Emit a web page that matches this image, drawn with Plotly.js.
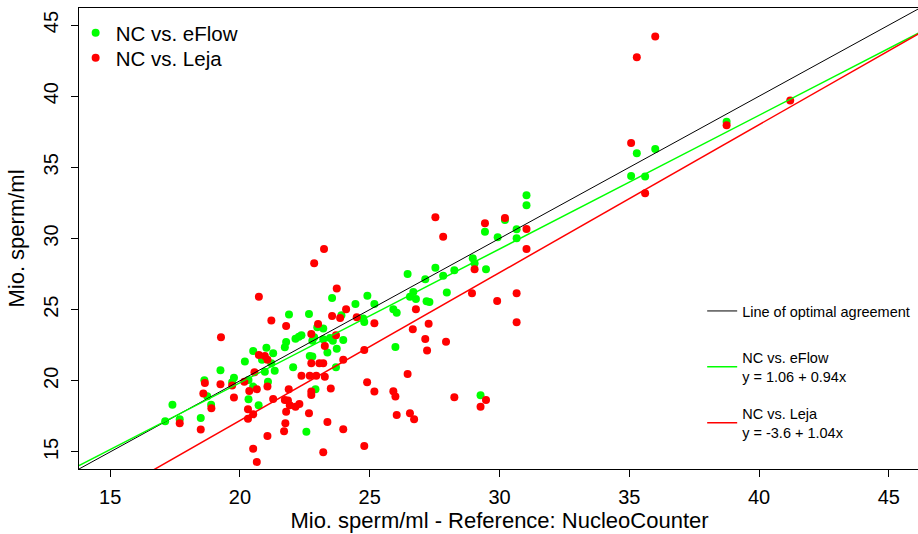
<!DOCTYPE html>
<html>
<head>
<meta charset="utf-8">
<script src="https://cdn.plot.ly/plotly-3.0.1.min.js"></script>
<style>
html,body{margin:0;padding:0;background:#fff;overflow:hidden;}
#chart{width:920px;height:534px;}
</style>
</head>
<body>
<div id="chart"></div>
<script>
// NucleoCounter reference vs. eFlow
const refEflow = [20.51,20.19,19.25,20.33,19.77,19.70,18.63,18.74,20.51,20.33,18.89,17.40,17.12,17.68,18.49,
  23.55,21.89,22.66,23.91,24.45,23.21,22.98,22.37,22.27,22.14,21.78,21.73,22.86,22.79,23.21,23.47,23.58,23.73,23.98,23.37,22.69,22.79,21.02,21.28,20.85,21.21,20.96,21.34,21.08,20.72,22.05,23.70,22.91,22.56,
  26.46,27.53,27.14,27.83,28.26,24.91,25.18,26.68,26.55,26.78,27.19,27.30,27.97,25.91,26.04,24.75,24.79,25.99,
  29.04,29.48,29.27,
  31.04,31.04,29.44,30.21,29.93,30.66,30.66,28.97,
  35.29,36.00,35.07,35.61,38.75];
const eflow = [22.10,21.35,20.74,20.06,20.22,19.90,20.04,18.91,19.59,18.70,18.32,18.32,17.16,17.30,17.39,
  25.82,24.65,24.70,24.61,25.40,23.67,23.76,23.20,23.10,22.96,22.73,22.36,23.06,22.82,22.92,23.01,22.82,22.26,22.87,21.98,21.75,21.70,22.33,21.94,21.47,21.23,20.64,20.71,19.94,18.28,20.95,20.95,19.41,16.41,
  27.51,27.95,27.14,27.39,27.77,25.98,25.40,26.24,25.91,25.75,25.59,25.54,26.20,25.03,24.79,24.37,24.14,22.38,
  28.26,27.84,18.98,
  33.04,32.34,30.48,31.30,30.09,30.65,30.02,28.61,
  35.99,36.29,34.40,34.35,38.21];

// NucleoCounter reference vs. Leja
const refLeja = [19.27,20.56,19.70,20.17,19.25,18.65,18.59,19.77,20.65,20.36,20.31,20.51,20.31,18.90,17.68,18.49,20.51,20.65,20.73,20.73,
  23.24,22.86,23.73,24.09,21.21,23.55,23.86,24.50,21.78,23.01,22.75,23.27,23.70,20.96,21.06,21.06,21.28,22.75,23.06,23.21,22.37,22.69,22.94,23.27,21.88,22.75,22.75,23.50,23.98,21.73,21.85,21.92,22.14,22.29,21.78,22.66,21.75,23.37,21.70,23.98,21.06,23.21,
  27.53,27.83,26.78,25.18,26.66,27.27,27.14,27.21,27.94,24.79,26.46,24.90,25.18,25.91,25.99,28.26,26.04,26.55,26.71,24.79,
  29.04,28.94,29.91,30.66,30.66,29.48,29.27,
  29.44,30.21,31.04,31.04,
  36.00,35.29,35.07,35.61,38.75,41.20];
const leja = [23.06,20.60,19.66,19.94,19.76,19.85,19.10,18.82,19.41,19.29,18.00,17.65,17.34,18.07,17.02,16.57,15.23,14.30,25.91,21.82,
  29.27,28.26,26.48,25.03,24.23,24.56,24.42,24.47,23.85,23.99,23.29,22.45,23.20,21.75,21.47,19.59,18.72,21.23,21.23,21.23,20.36,20.36,20.36,20.29,19.41,19.24,19.00,19.45,21.47,18.65,18.61,18.28,18.18,18.37,17.83,17.72,17.02,17.11,16.45,16.60,16.12,14.98,
  31.49,30.13,25.03,24.04,23.62,24.00,22.94,22.12,22.75,22.17,20.48,19.90,19.24,19.27,18.89,18.84,17.60,17.72,17.30,15.42,
  27.84,26.15,25.61,26.15,24.11,18.65,18.18,
  31.07,31.44,30.67,29.27,
  44.19,42.74,36.71,33.18,37.96,39.70];

// Regression lines: [intercept, slope]
const lineNames = ['Line of optimal agreement', 'NC vs. eFlow<br>y = 1.06 + 0.94x', 'NC vs. Leja<br>y = -3.6 + 1.04x'];
const intercepts = [0, 1.06, -3.6];
const slopes = [1, 0.94, 1.04];
const lineColors = ['#000000', '#00FF00', '#FF0000'];

const xTicks = [15, 20, 25, 30, 35, 40, 45];
const yTicks = [15, 20, 25, 30, 35, 40, 45];
const axisRange = [13.8, 46.2];

const FONT = 'Liberation Sans, Arial, sans-serif';

const traces = [
  {x: refEflow, y: eflow, type: 'scatter', mode: 'markers', name: 'NC vs. eFlow',
   marker: {color: '#00FF00', size: 8}, legend: 'legend'},
  {x: refLeja, y: leja, type: 'scatter', mode: 'markers', name: 'NC vs. Leja',
   marker: {color: '#FF0000', size: 8}, legend: 'legend5'}
];
const lineLegends = ['legend2', 'legend3', 'legend4'];
for (let i = 0; i < lineNames.length; i++) {
  traces.push({
    x: axisRange, y: axisRange.map(v => intercepts[i] + slopes[i] * v),
    type: 'scatter', mode: 'lines', name: lineNames[i],
    line: {color: lineColors[i], width: i === 0 ? 1 : 1.5},
    legend: lineLegends[i]
  });
}

const axisCommon = {
  range: axisRange, showgrid: false, zeroline: false,
  showline: true, linecolor: '#000', linewidth: 1, mirror: true,
  ticks: 'outside', ticklen: 7, tickwidth: 1, tickcolor: '#000',
  tickfont: {family: FONT, size: 20, color: '#000'},
  automargin: false
};

const smallLegend = (y) => ({
  x: 0.741, y: y, xanchor: 'left', yanchor: 'middle',
  bgcolor: 'rgba(0,0,0,0)', borderwidth: 0,
  font: {family: FONT, size: 14.5, color: '#000'},
  itemwidth: 30
});
const bigLegend = (y) => ({
  x: -0.004, y: y, xanchor: 'left', yanchor: 'middle',
  bgcolor: 'rgba(0,0,0,0)', borderwidth: 0,
  font: {family: FONT, size: 20.5, color: '#000'},
  itemwidth: 30
});

const layout = {
  width: 920, height: 534,
  margin: {l: 79, r: 0, t: 8, b: 65},
  paper_bgcolor: '#fff', plot_bgcolor: '#fff',
  font: {family: FONT, color: '#000'},
  showlegend: true,
  xaxis: Object.assign({}, axisCommon, {
    tickvals: xTicks, ticktext: xTicks.map(String), ticklabelstandoff: 3,
    title: {text: 'Mio. sperm/ml - Reference: NucleoCounter', font: {family: FONT, size: 22, color: '#000'}, standoff: 5}
  }),
  yaxis: Object.assign({}, axisCommon, {
    tickvals: yTicks, ticktext: yTicks.map(String), tickangle: -90, ticklabelstandoff: 5,
    title: {text: 'Mio. sperm/ml', font: {family: FONT, size: 22, color: '#000'}, standoff: 9}
  }),
  legend: bigLegend(0.9458),
  legend5: bigLegend(0.8915),
  legend2: smallLegend(0.3427),
  legend3: smallLegend(0.2213),
  legend4: smallLegend(0.0998)
};

Plotly.newPlot('chart', traces, layout, {displayModeBar: false, staticPlot: true});
</script>
</body>
</html>
